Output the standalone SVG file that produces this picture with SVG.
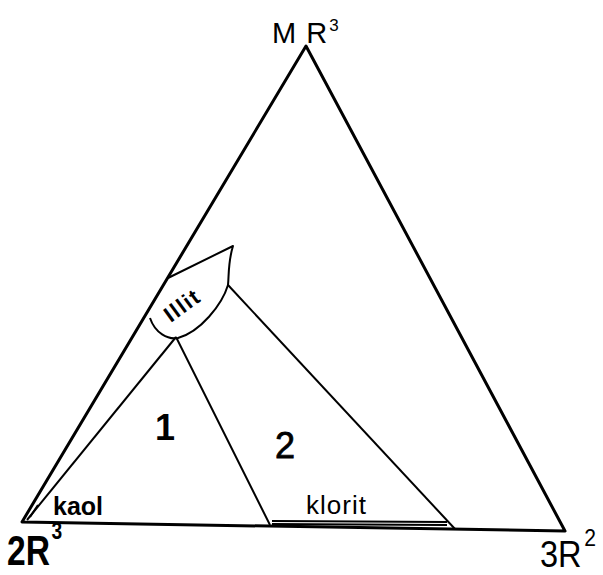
<svg xmlns="http://www.w3.org/2000/svg" width="603" height="575" viewBox="0 0 603 575">
<style>
.ln{fill:none;stroke:#000;stroke-width:2;stroke-linejoin:round}
.th{fill:none;stroke:#000;stroke-width:3;stroke-linejoin:round}
.t{font-family:"Liberation Sans",Arial,sans-serif;fill:#000}
</style>
<rect width="603" height="575" fill="#fff"/>
<g id="triangle"><path class="th" d="M22 522 L306 46 L565 531 Z"/></g>
<g id="illit">
<path class="ln" d="M168 278 L233 246 C228 262 229 275 228 285 C222 305 200 332 178 338 C168 340 155 333 150 318"/>
<text class="t" x="0" y="8" font-size="22" font-weight="bold" letter-spacing="1.5" text-anchor="middle" transform="translate(182 305) rotate(-36)">Illit</text>
</g>
<g id="connectors">
<path class="ln" d="M176 337 L27 520"/>
<path class="ln" d="M30 517 L38 505"/>
<path class="ln" d="M176 337 L270 525"/>
<path class="ln" d="M228 285 L455 529"/>
</g>
<g id="klorit">
<path class="ln" d="M272 521 L447 522"/>
<path class="ln" d="M272 524 L447 525" stroke-width="1.5"/>
<text class="t" x="306" y="514" font-size="26" letter-spacing="1">klorit</text>
</g>
<g id="kaol"><text class="t" x="53" y="515" font-size="25" font-weight="bold">kaol</text></g>
<g id="labels">
<text class="t" x="155" y="440" font-size="36" font-weight="bold">1</text>
<text class="t" x="275" y="458" font-size="36" stroke="#000" stroke-width="0.8">2</text>
<text class="t" x="272" y="43" font-size="29">M <tspan dx="2">R</tspan><tspan font-size="17" dx="2" dy="-12">3</tspan></text>
<text class="t" x="0" y="0" font-size="42" font-weight="bold" transform="translate(7 565) scale(0.8 1)">2R<tspan font-size="24" dx="2" dy="-26">3</tspan></text>
<text class="t" x="0" y="0" font-size="37" transform="translate(540 567) scale(0.88 1)">3R<tspan font-size="24" dx="3" dy="-21">2</tspan></text>
</g>
</svg>
